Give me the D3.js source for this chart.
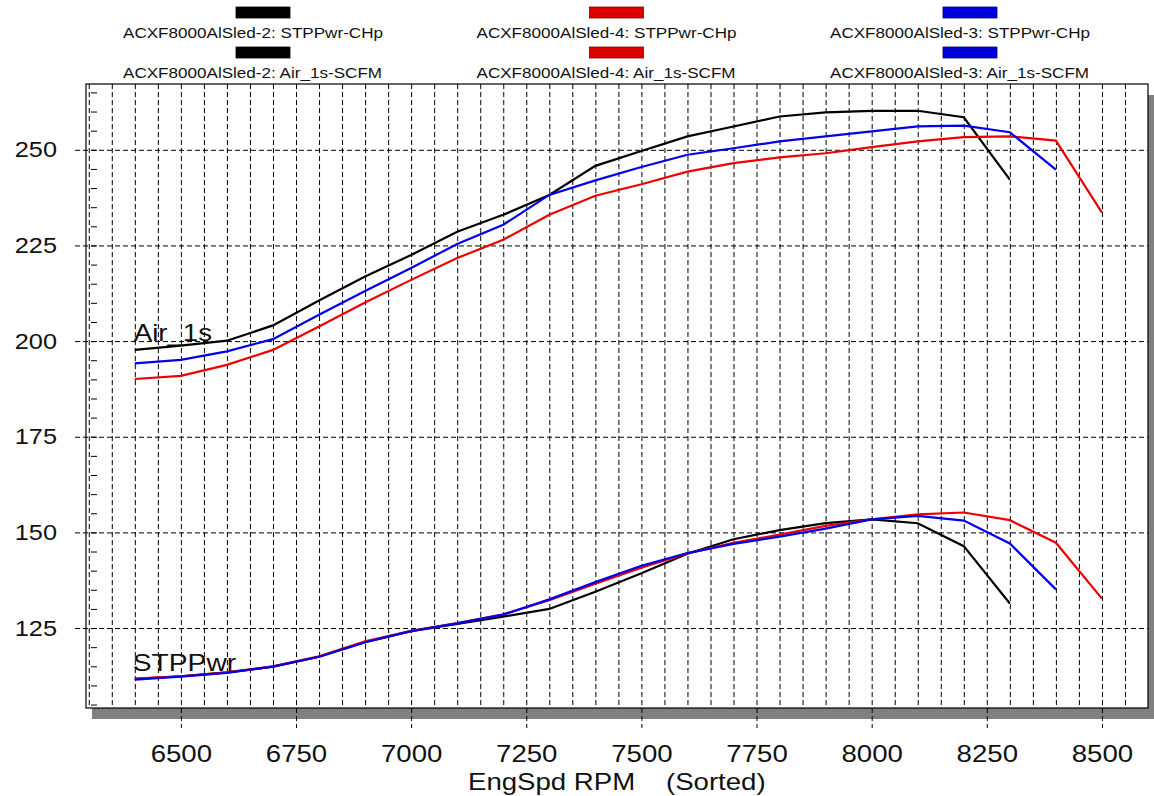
<!DOCTYPE html>
<html>
<head>
<meta charset="utf-8">
<script src="https://cdn.jsdelivr.net/npm/d3@7"></script>
<style>
  html, body { margin: 0; padding: 0; background: #fff; }
  svg { display: block; font-family: "Liberation Sans", Arial, sans-serif; }
</style>
</head>
<body>
<svg id="chart" width="1154" height="796"></svg>
<script>
// Engine speed steps (RPM, sorted)
const rpm = [6400, 6500, 6600, 6700, 6800, 6900, 7000, 7100, 7200, 7300, 7400,
             7500, 7600, 7700, 7800, 7900, 8000, 8100, 8200, 8300, 8400, 8500];

// Air_1s-SCFM per sled
const airSled2 = [197.7, 198.8, 200.1, 204.1, 210.6, 216.9, 222.5, 228.6, 233.0, 238.2, 245.8,
                  249.7, 253.5, 256.1, 258.7, 259.8, 260.2, 260.2, 258.5, 242.2];
const airSled4 = [190.1, 190.9, 193.8, 197.7, 203.8, 210.1, 216.0, 221.7, 226.5, 233.0, 238.0,
                  241.0, 244.3, 246.5, 248.0, 249.1, 250.7, 252.2, 253.3, 253.5, 252.4, 233.6];
const airSled3 = [194.2, 195.1, 197.3, 200.5, 206.9, 213.1, 219.1, 225.4, 230.4, 238.2, 242.0,
                  245.5, 248.7, 250.4, 252.2, 253.5, 254.8, 256.1, 256.3, 254.6, 244.8];

// STPPwr-CHp per sled
const pwrSled2 = [111.7, 112.4, 113.4, 114.9, 117.5, 121.3, 124.2, 126.1, 128.0, 130.0, 134.5,
                  139.3, 144.4, 148.2, 150.6, 152.4, 153.4, 152.4, 146.4, 131.4];
const pwrSled4 = [111.8, 112.4, 113.4, 115.0, 117.6, 121.5, 124.3, 126.3, 128.6, 132.3, 136.6,
                  140.8, 144.5, 147.3, 149.4, 151.7, 153.4, 154.7, 155.2, 153.2, 147.3, 132.7];
const pwrSled3 = [111.5, 112.3, 113.3, 114.9, 117.5, 121.3, 124.2, 126.2, 128.5, 132.5, 137.0,
                  141.3, 144.6, 147.0, 148.9, 151.0, 153.4, 154.3, 153.1, 147.1, 135.1];

// Legend names, channels, colours
const sledNames = ["ACXF8000AlSled-2", "ACXF8000AlSled-4", "ACXF8000AlSled-3"];
const channelNames = ["STPPwr-CHp", "Air_1s-SCFM"];
const lineColors = ["#000000", "#ee0000", "#0000ee"];
const swatchColors = ["#000000", "#dd0000", "#0000d8"];

// Axis ticks
const yTicks = [125, 150, 175, 200, 225, 250];
const xTicks = [6500, 6750, 7000, 7250, 7500, 7750, 8000, 8250, 8500];

const series = [
  { name: sledNames[0], color: lineColors[0], air: airSled2, pwr: pwrSled2 },
  { name: sledNames[1], color: lineColors[1], air: airSled4, pwr: pwrSled4 },
  { name: sledNames[2], color: lineColors[2], air: airSled3, pwr: pwrSled3 }
];

const svg = d3.select("#chart");
const frame = { left: 86, right: 1148, top: 84, bottom: 708 };

const x = d3.scaleLinear().domain([6294, 8600]).range([frame.left, frame.right]);
const y = d3.scaleLinear().domain([104.1, 267.2]).range([frame.bottom, frame.top]);

// Drop shadow and plot background
svg.append("rect")
  .attr("x", frame.left + 6).attr("y", frame.top + 11)
  .attr("width", frame.right - frame.left + 6).attr("height", frame.bottom - frame.top)
  .attr("fill", "#808080");
svg.append("rect")
  .attr("x", frame.left).attr("y", frame.top)
  .attr("width", frame.right - frame.left).attr("height", frame.bottom - frame.top)
  .attr("fill", "#fff");

const dash = "5,3";

// Vertical grid every 50 RPM
const gridRpm = d3.range(6300, 8600, 50);
const vGrid = svg.append("g")
  .attr("transform", `translate(0,${frame.top})`)
  .call(d3.axisTop(x).tickValues(gridRpm).tickSize(-(frame.bottom - frame.top)).tickFormat(""));
vGrid.select(".domain").remove();
vGrid.selectAll("line").attr("stroke", "#000").attr("stroke-dasharray", dash);

// Horizontal major grid, extending left of the frame
const hGrid = svg.append("g")
  .attr("transform", `translate(75,0)`)
  .call(d3.axisLeft(y).tickValues(yTicks).tickSize(-(frame.right - 75)).tickFormat(""));
hGrid.select(".domain").remove();
hGrid.selectAll("line").attr("stroke", "#000").attr("stroke-dasharray", dash);

// Minor y ticks
const minor = svg.append("g")
  .attr("transform", `translate(${frame.left + 5},0)`)
  .call(d3.axisRight(y).tickValues(d3.range(105, 267, 5)).tickSize(6).tickFormat(""));
minor.select(".domain").remove();
minor.selectAll("line").attr("stroke", "#000");

// Frame
svg.append("rect")
  .attr("x", frame.left).attr("y", frame.top)
  .attr("width", frame.right - frame.left).attr("height", frame.bottom - frame.top)
  .attr("fill", "none").attr("stroke", "#000").attr("stroke-width", 1.2);

// Y tick labels
const sx = 1.15;
const yAxis = svg.append("g")
  .attr("transform", `translate(${frame.left},0)`)
  .call(d3.axisLeft(y).tickValues(yTicks).tickSize(0).tickPadding(29 / sx).tickFormat(d3.format("d")));
yAxis.select(".domain").remove();
yAxis.selectAll("text")
  .attr("font-size", 22).attr("fill", "#111")
  .attr("font-family", "Liberation Sans, Arial, sans-serif")
  .attr("transform", `scale(${sx},1)`);

// X ticks below the shadow and labels
const xAxis = svg.append("g")
  .attr("transform", `translate(0,${frame.bottom})`)
  .call(d3.axisBottom(x).tickValues(xTicks).tickSize(20).tickPadding(17).tickFormat(d3.format("d")));
xAxis.select(".domain").remove();
xAxis.selectAll("line").attr("stroke", "#000").attr("stroke-dasharray", dash);
xAxis.selectAll("text")
  .attr("font-size", 24).attr("fill", "#111")
  .attr("font-family", "Liberation Sans, Arial, sans-serif")
  .attr("transform", `scale(${sx},1)`);

// Data lines
const line = d3.line()
  .x(d => x(d[0]))
  .y(d => y(d[1]));

const lines = svg.append("g").attr("fill", "none").attr("stroke-width", 2.2);
series.forEach(s => {
  lines.append("path")
    .attr("d", line(s.air.map((v, i) => [rpm[i], v])))
    .attr("stroke", s.color);
});
series.forEach(s => {
  lines.append("path")
    .attr("d", line(s.pwr.map((v, i) => [rpm[i], v])))
    .attr("stroke", s.color);
});

// Curve labels
function stretchedText(g, tx, ty, str, size, k) {
  return g.append("text")
    .attr("transform", `translate(${tx},${ty}) scale(${k},1)`)
    .attr("font-size", size)
    .attr("fill", "#111")
    .text(str);
}
stretchedText(svg, x(rpm[0]) - 1, y(200), "Air_1s", 23, 1.2);
stretchedText(svg, x(rpm[0]) - 2, 671, "STPPwr", 23.5, 1.2);

// Axis title
stretchedText(svg, 468, 790, "EngSpd RPM", 23, 1.2);
stretchedText(svg, 666, 790, "(Sorted)", 23, 1.2);

// Legend: one column per sled, one row per channel
const legend = svg.append("g");
sledNames.forEach((name, i) => {
  const tx = 123 + i * 353.5;
  channelNames.forEach((ch, r) => {
    legend.append("rect")
      .attr("x", tx + 113).attr("y", 7 + r * 40)
      .attr("width", 54).attr("height", 11)
      .attr("fill", swatchColors[i])
      .attr("stroke", d3.color(swatchColors[i]).darker(1.5))
      .attr("stroke-width", 0.8);
    stretchedText(legend, tx, 38 + r * 40, `${name}: ${ch}`, 14, 1.22);
  });
});
</script>
</body>
</html>
